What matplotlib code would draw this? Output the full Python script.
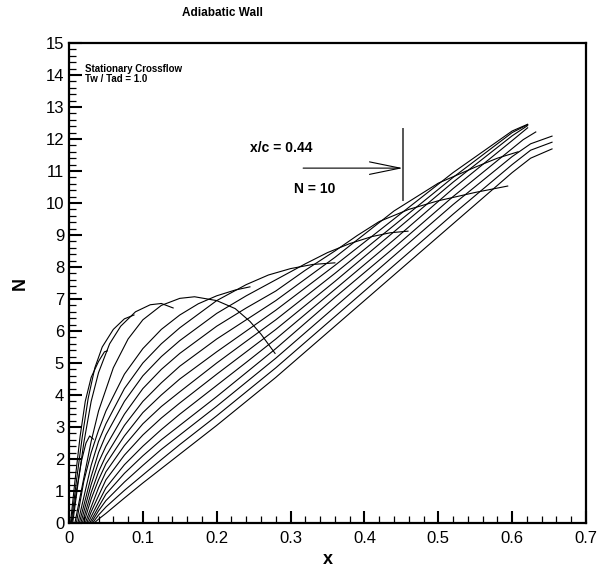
# N-factor curves, stationary crossflow, adiabatic wall
import matplotlib
matplotlib.use('Agg')
import matplotlib.pyplot as plt
from matplotlib.ticker import MultipleLocator

plt.rcParams['font.family'] = ['Liberation Sans', 'DejaVu Sans']

# curves: (x, N) per wavelength
A_x = [0.004, 0.010, 0.017, 0.023, 0.028, 0.033]
A_n = [0.0, 1.0, 1.95, 2.5, 2.72, 2.62]
B_x = [0.002, 0.008, 0.015, 0.022, 0.030, 0.040, 0.048, 0.052]
B_n = [0.0, 1.3, 2.7, 3.8, 4.55, 5.05, 5.35, 5.38]
C_x = [0.003, 0.010, 0.018, 0.026, 0.035, 0.045, 0.060, 0.075, 0.088]
C_n = [0.0, 1.3, 2.7, 3.9, 4.85, 5.5, 6.05, 6.38, 6.5]
D_x = [0.005, 0.012, 0.020, 0.030, 0.040, 0.055, 0.070, 0.090, 0.110, 0.125, 0.141]
D_n = [0.0, 1.2, 2.5, 3.8, 4.7, 5.6, 6.15, 6.6, 6.82, 6.86, 6.72]
E_x = [0.008, 0.020, 0.030, 0.040, 0.060, 0.080, 0.100, 0.125, 0.150, 0.170,
       0.200, 0.225, 0.245, 0.260, 0.279]
E_n = [0.0, 1.4, 2.55, 3.5, 4.85, 5.75, 6.35, 6.8, 7.02, 7.07,
       6.95, 6.7, 6.3, 5.9, 5.3]
F_x = [0.010, 0.020, 0.030, 0.040, 0.050, 0.075, 0.100, 0.125, 0.150, 0.175,
       0.200, 0.225, 0.245]
F_n = [0.0, 1.3, 2.2, 2.9, 3.5, 4.65, 5.45, 6.05, 6.5, 6.85, 7.1, 7.28, 7.38]
G_x = [0.012, 0.030, 0.040, 0.050, 0.075, 0.100, 0.125, 0.150, 0.200, 0.240,
       0.270, 0.300, 0.330, 0.360]
G_n = [0.0, 1.8, 2.55, 3.1, 4.2, 5.0, 5.6, 6.1, 6.95, 7.45, 7.75, 7.95, 8.08, 8.13]
H_x = [0.014, 0.030, 0.040, 0.050, 0.075, 0.100, 0.125, 0.150, 0.200, 0.240,
       0.280, 0.320, 0.350, 0.380, 0.410, 0.435, 0.459]
H_n = [0.0, 1.45, 2.2, 2.75, 3.8, 4.6, 5.2, 5.7, 6.55, 7.1,
       7.6, 8.1, 8.45, 8.73, 8.95, 9.07, 9.12]
I_x = [0.016, 0.030, 0.040, 0.050, 0.075, 0.100, 0.125, 0.150, 0.200, 0.240,
       0.280, 0.320, 0.360, 0.390, 0.420, 0.460, 0.500, 0.550, 0.594]
I_n = [0.0, 1.2, 1.9, 2.4, 3.4, 4.2, 4.8, 5.3, 6.15, 6.72,
       7.25, 7.9, 8.5, 8.98, 9.42, 9.8, 10.07, 10.33, 10.53]
J_x = [0.018, 0.030, 0.040, 0.050, 0.075, 0.100, 0.125, 0.150, 0.200, 0.240,
       0.280, 0.360, 0.440, 0.500, 0.550, 0.580, 0.608]
J_n = [0.0, 0.95, 1.6, 2.1, 3.05, 3.8, 4.38, 4.9, 5.75, 6.35,
       6.95, 8.3, 9.75, 10.62, 11.12, 11.4, 11.6]
K1_x = [0.020, 0.030, 0.040, 0.050, 0.075, 0.100, 0.125, 0.150, 0.200, 0.240,
        0.280, 0.360, 0.440, 0.520, 0.600, 0.621]
K1_n = [0.0, 0.75, 1.35, 1.85, 2.72, 3.45, 4.0, 4.5, 5.35, 6.0,
        6.65, 8.05, 9.5, 10.95, 12.25, 12.46]
K2_x = [0.022, 0.030, 0.040, 0.050, 0.075, 0.100, 0.125, 0.150, 0.200, 0.240,
        0.280, 0.360, 0.440, 0.520, 0.600, 0.621]
K2_n = [0.0, 0.5, 1.1, 1.6, 2.42, 3.1, 3.64, 4.1, 5.0, 5.68,
        6.35, 7.8, 9.3, 10.8, 12.2, 12.45]
K3_x = [0.024, 0.030, 0.040, 0.050, 0.075, 0.100, 0.125, 0.150, 0.200, 0.240,
        0.280, 0.360, 0.440, 0.520, 0.600, 0.621]
K3_n = [0.0, 0.35, 0.85, 1.35, 2.12, 2.75, 3.28, 3.75, 4.65, 5.35,
        6.05, 7.55, 9.1, 10.65, 12.1, 12.42]
K4_x = [0.026, 0.030, 0.040, 0.050, 0.075, 0.100, 0.125, 0.150, 0.200, 0.240,
        0.280, 0.360, 0.440, 0.520, 0.600, 0.621]
K4_n = [0.0, 0.2, 0.65, 1.1, 1.82, 2.4, 2.92, 3.4, 4.3, 5.02,
        5.75, 7.3, 8.85, 10.45, 11.95, 12.35]
L_x = [0.028, 0.040, 0.050, 0.075, 0.100, 0.125, 0.150, 0.200, 0.240, 0.280,
       0.360, 0.440, 0.520, 0.600, 0.615, 0.632]
L_n = [0.0, 0.5, 0.9, 1.55, 2.1, 2.6, 3.05, 3.95, 4.7, 5.45,
       7.05, 8.6, 10.2, 11.7, 11.98, 12.22]
M1_x = [0.030, 0.040, 0.050, 0.075, 0.100, 0.125, 0.150, 0.200, 0.240, 0.280,
        0.360, 0.440, 0.520, 0.600, 0.625, 0.654]
M1_n = [0.0, 0.38, 0.7, 1.28, 1.8, 2.3, 2.75, 3.65, 4.4, 5.15,
        6.75, 8.35, 9.95, 11.45, 11.85, 12.09]
M2_x = [0.032, 0.040, 0.050, 0.075, 0.100, 0.125, 0.150, 0.200, 0.240, 0.280,
        0.360, 0.440, 0.520, 0.600, 0.625, 0.654]
M2_n = [0.0, 0.25, 0.5, 1.02, 1.5, 1.98, 2.45, 3.35, 4.1, 4.85,
        6.45, 8.05, 9.65, 11.2, 11.65, 11.9]
M3_x = [0.034, 0.040, 0.050, 0.075, 0.100, 0.125, 0.150, 0.200, 0.240, 0.280,
        0.360, 0.440, 0.520, 0.600, 0.625, 0.654]
M3_n = [0.0, 0.12, 0.3, 0.78, 1.25, 1.7, 2.15, 3.05, 3.8, 4.55,
        6.15, 7.75, 9.35, 10.95, 11.4, 11.69]

curves = [(A_x, A_n), (B_x, B_n), (C_x, C_n), (D_x, D_n), (E_x, E_n),
          (F_x, F_n), (G_x, G_n), (H_x, H_n), (I_x, I_n), (J_x, J_n),
          (K1_x, K1_n), (K2_x, K2_n), (K3_x, K3_n), (K4_x, K4_n),
          (L_x, L_n), (M1_x, M1_n), (M2_x, M2_n), (M3_x, M3_n)]

# x/c = 0.44 marker
mark_x = 0.452
mark_n = [10.09, 12.31]
arrow_from = 0.317
arrow_n = 11.09

fig = plt.figure(figsize=(6.05, 5.67), dpi=100)
ax = fig.add_axes([69 / 605, 44 / 567, 517 / 605, 480 / 567])

for cx, cn in curves:
    ax.plot(cx, cn, color='black', lw=0.8)

ax.plot([mark_x, mark_x], mark_n, color='#555555', lw=1.4)
ax.annotate('', xy=(mark_x, arrow_n), xytext=(arrow_from, arrow_n),
            arrowprops=dict(arrowstyle='->,head_length=2.2,head_width=0.45',
                            color='black', lw=0.8, shrinkA=0, shrinkB=0))
ax.text(0.245, 11.72, 'x/c = 0.44', fontsize=10, fontweight='bold', va='center')
ax.text(0.305, 10.44, 'N = 10', fontsize=10, fontweight='bold', va='center')
ax.text(0.022, 14.33, 'Stationary Crossflow\nTw / Tad = 1.0', fontsize=7,
        fontweight='bold', va='top', linespacing=1.0)

ax.set_xlim(0, 0.7)
ax.set_ylim(0, 15)
ax.xaxis.set_major_locator(MultipleLocator(0.1))
ax.xaxis.set_minor_locator(MultipleLocator(0.02))
ax.yaxis.set_major_locator(MultipleLocator(1))
ax.yaxis.set_minor_locator(MultipleLocator(0.2))
ax.set_xticks([0, 0.1, 0.2, 0.3, 0.4, 0.5, 0.6, 0.7])
ax.set_xticklabels(['0', '0.1', '0.2', '0.3', '0.4', '0.5', '0.6', '0.7'])
ax.tick_params(which='major', direction='in', length=9, width=1.5, labelsize=12,
               top=False, right=False)
ax.tick_params(axis='x', which='major', pad=6)
ax.tick_params(which='minor', direction='in', length=5, width=0.9,
               top=False, right=False)
for sp in ax.spines.values():
    sp.set_linewidth(1.6)

ax.set_xlabel('x', fontsize=13, fontweight='bold', labelpad=3)
ax.set_ylabel('N', fontsize=13, fontweight='bold', labelpad=12)
fig.text(222 / 605, 1 - 13 / 567, 'Adiabatic Wall', fontsize=8.5,
         fontweight='bold', ha='center', va='center')

fig.savefig('out.png', dpi=100)
